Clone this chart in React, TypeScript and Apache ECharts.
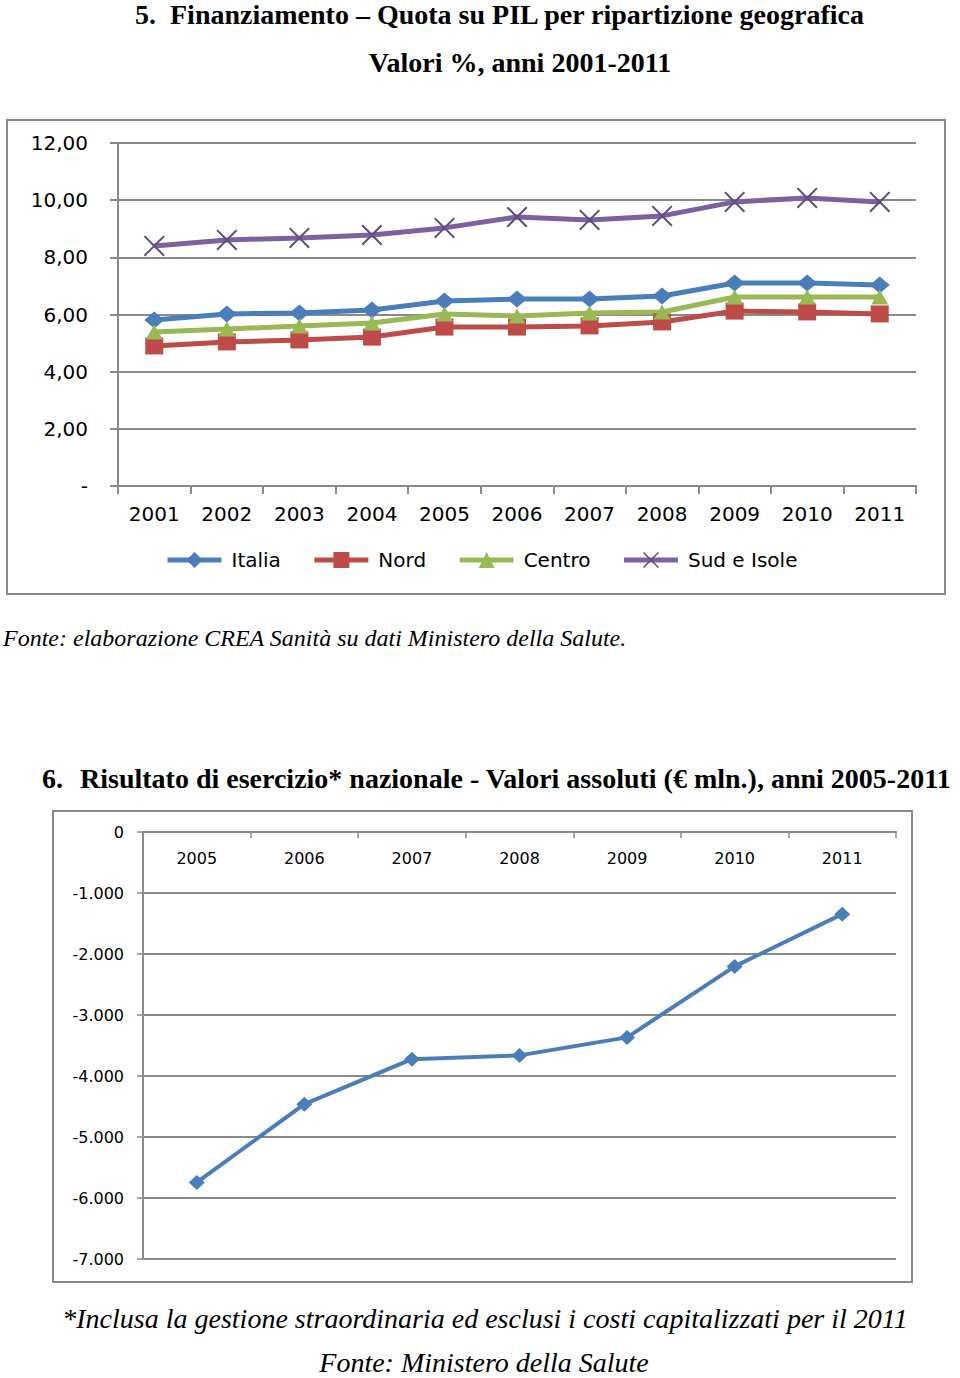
import React, { useEffect, useRef } from "react";
import * as echarts from "echarts";

const years1 = ["2001", "2002", "2003", "2004", "2005", "2006", "2007", "2008", "2009", "2010", "2011"];
const italia = [5.81, 6.02, 6.05, 6.16, 6.47, 6.54, 6.54, 6.65, 7.1, 7.1, 7.03];
const nord = [4.9, 5.04, 5.11, 5.21, 5.56, 5.56, 5.6, 5.74, 6.12, 6.09, 6.02];
const centro = [5.39, 5.49, 5.6, 5.7, 6.02, 5.95, 6.05, 6.09, 6.61, 6.61, 6.61];
const sud = [8.4, 8.61, 8.68, 8.78, 9.03, 9.41, 9.31, 9.45, 9.94, 10.08, 9.94];

const years2 = ["2005", "2006", "2007", "2008", "2009", "2010", "2011"];
const risultato = [-5745, -4462, -3724, -3662, -3367, -2203, -1347];

const GRAY = "#8a8a8a";
const SANS = "DejaVu Sans";
const SERIF = "Liberation Serif";
const XPATH =
  "path://M0,1.4 L1.4,0 L10,8.6 L18.6,0 L20,1.4 L11.4,10 L20,18.6 L18.6,20 L10,11.4 L1.4,20 L0,18.6 L8.6,10 Z";

function fmt1(v: number) {
  if (v === 0) return "-";
  return v.toFixed(2).replace(".", ",");
}
function fmt2(v: number) {
  if (v === 0) return "0";
  const s = Math.abs(v).toString().replace(/\B(?=(\d{3})+(?!\d))/g, ".");
  return (v < 0 ? "-" : "") + s;
}

export default function App() {
  const ref = useRef<HTMLDivElement>(null);
  useEffect(() => {
    if (!ref.current) return;
    const chart = echarts.init(ref.current, null, { renderer: "svg" });
    const lineSeries = (name: string, data: number[], color: string, symbol: string, size: any, symColor?: string) => ({
      name,
      type: "line",
      xAxisIndex: 0,
      yAxisIndex: 0,
      data,
      symbol,
      symbolSize: size,
      lineStyle: { color, width: 5 },
      itemStyle: { color: symColor || color },
      emphasis: { disabled: true },
    });
    chart.setOption({
      animation: false,
      backgroundColor: "#ffffff",
      graphic: [
        { type: "rect", shape: { x: 7, y: 120, width: 938, height: 474 }, style: { fill: "none", stroke: GRAY, lineWidth: 2 } },
        { type: "rect", shape: { x: 53, y: 811, width: 859, height: 471 }, style: { fill: "none", stroke: GRAY, lineWidth: 2 } },
        { type: "text", x: 135, y: 14, style: { text: "5.", font: `bold 28px "${SERIF}"`, fill: "#000", textVerticalAlign: "middle" } },
        { type: "text", x: 170, y: 14, style: { text: "Finanziamento – Quota su PIL per ripartizione geografica", font: `bold 28px "${SERIF}"`, fill: "#000", textVerticalAlign: "middle" } },
        { type: "text", x: 520, y: 62, style: { text: "Valori %, anni 2001-2011", font: `bold 28px "${SERIF}"`, fill: "#000", textAlign: "center", textVerticalAlign: "middle" } },
        { type: "text", x: 3, y: 638, style: { text: "Fonte: elaborazione CREA Sanità su dati Ministero della Salute.", font: `italic 24px "${SERIF}"`, fill: "#000", textVerticalAlign: "middle" } },
        { type: "text", x: 42, y: 778, style: { text: "6.", font: `bold 28px "${SERIF}"`, fill: "#000", textVerticalAlign: "middle" } },
        { type: "text", x: 80, y: 778, style: { text: "Risultato di esercizio* nazionale - Valori assoluti (€ mln.), anni 2005-2011", font: `bold 28px "${SERIF}"`, fill: "#000", textVerticalAlign: "middle" } },
        { type: "text", x: 485, y: 1318, style: { text: "*Inclusa la gestione straordinaria ed esclusi i costi capitalizzati per il 2011", font: `italic 28px "${SERIF}"`, fill: "#000", textAlign: "center", textVerticalAlign: "middle" } },
        { type: "text", x: 484, y: 1362, style: { text: "Fonte: Ministero della Salute", font: `italic 28px "${SERIF}"`, fill: "#000", textAlign: "center", textVerticalAlign: "middle" } },
      ],
      legend: {
        left: 165,
        top: 550,
        padding: 0,
        itemWidth: 54,
        itemHeight: 20,
        itemGap: 31,
        lineStyle: { width: 5 },
        textStyle: { fontFamily: SANS, fontSize: 20, color: "#000", padding: [0, 0, 0, 5] },
        data: ["Italia", "Nord", "Centro", "Sud e Isole"],
      },
      grid: [
        { left: 118, right: 44, top: 143, bottom: 892 },
        { left: 143, right: 64, top: 832, bottom: 119 },
      ],
      xAxis: [
        {
          type: "category",
          gridIndex: 0,
          data: years1,
          boundaryGap: true,
          axisLine: { lineStyle: { color: GRAY, width: 2 } },
          axisTick: { show: true, length: 8, lineStyle: { color: GRAY, width: 2 }, alignWithLabel: false },
          axisLabel: { fontFamily: SANS, fontSize: 20, color: "#000", margin: 18, interval: 0 },
          splitLine: { show: false },
        },
        {
          type: "category",
          gridIndex: 1,
          data: years2,
          position: "top",
          boundaryGap: true,
          axisLine: { onZero: false, lineStyle: { color: GRAY, width: 2 } },
          axisTick: { show: true, inside: true, length: 6, lineStyle: { color: GRAY, width: 1.5 } },
          axisLabel: { inside: true, fontFamily: SANS, fontSize: 16, color: "#000", margin: 18, interval: 0 },
          splitLine: { show: false },
        },
      ],
      yAxis: [
        {
          type: "value",
          gridIndex: 0,
          min: 0,
          max: 12,
          interval: 2,
          axisLine: { show: true, lineStyle: { color: GRAY, width: 2 } },
          axisTick: { show: true, length: 8, lineStyle: { color: GRAY, width: 2 } },
          axisLabel: { fontFamily: SANS, fontSize: 20, color: "#000", margin: 30, formatter: fmt1 },
          splitLine: { lineStyle: { color: GRAY, width: 2 } },
        },
        {
          type: "value",
          gridIndex: 1,
          min: -7000,
          max: 0,
          interval: 1000,
          axisLine: { show: true, lineStyle: { color: GRAY, width: 2 } },
          axisTick: { show: true, length: 6, lineStyle: { color: GRAY, width: 1.5 } },
          axisLabel: { fontFamily: SANS, fontSize: 16, color: "#000", margin: 19, formatter: fmt2 },
          splitLine: { lineStyle: { color: GRAY, width: 2 } },
        },
      ],
      series: [
        lineSeries("Italia", italia, "#4a7ebb", "diamond", [20, 17]),
        lineSeries("Nord", nord, "#be4b48", "rect", [18, 17]),
        lineSeries("Centro", centro, "#98b954", "triangle", [17, 15]),
        lineSeries("Sud e Isole", sud, "#7d60a0", XPATH, 21, "#5f4f7e"),
        {
          name: "Risultato",
          type: "line",
          xAxisIndex: 1,
          yAxisIndex: 1,
          data: risultato,
          symbol: "diamond",
          symbolSize: [16, 15],
          lineStyle: { color: "#4a7ebb", width: 4 },
          itemStyle: { color: "#4a7ebb" },
          emphasis: { disabled: true },
        },
      ],
    });
    return () => chart.dispose();
  }, []);
  return (
    <div
      ref={ref}
      style={{ position: "absolute", left: 0, top: 0, width: 960, height: 1378, background: "#fff" }}
    />
  );
}
